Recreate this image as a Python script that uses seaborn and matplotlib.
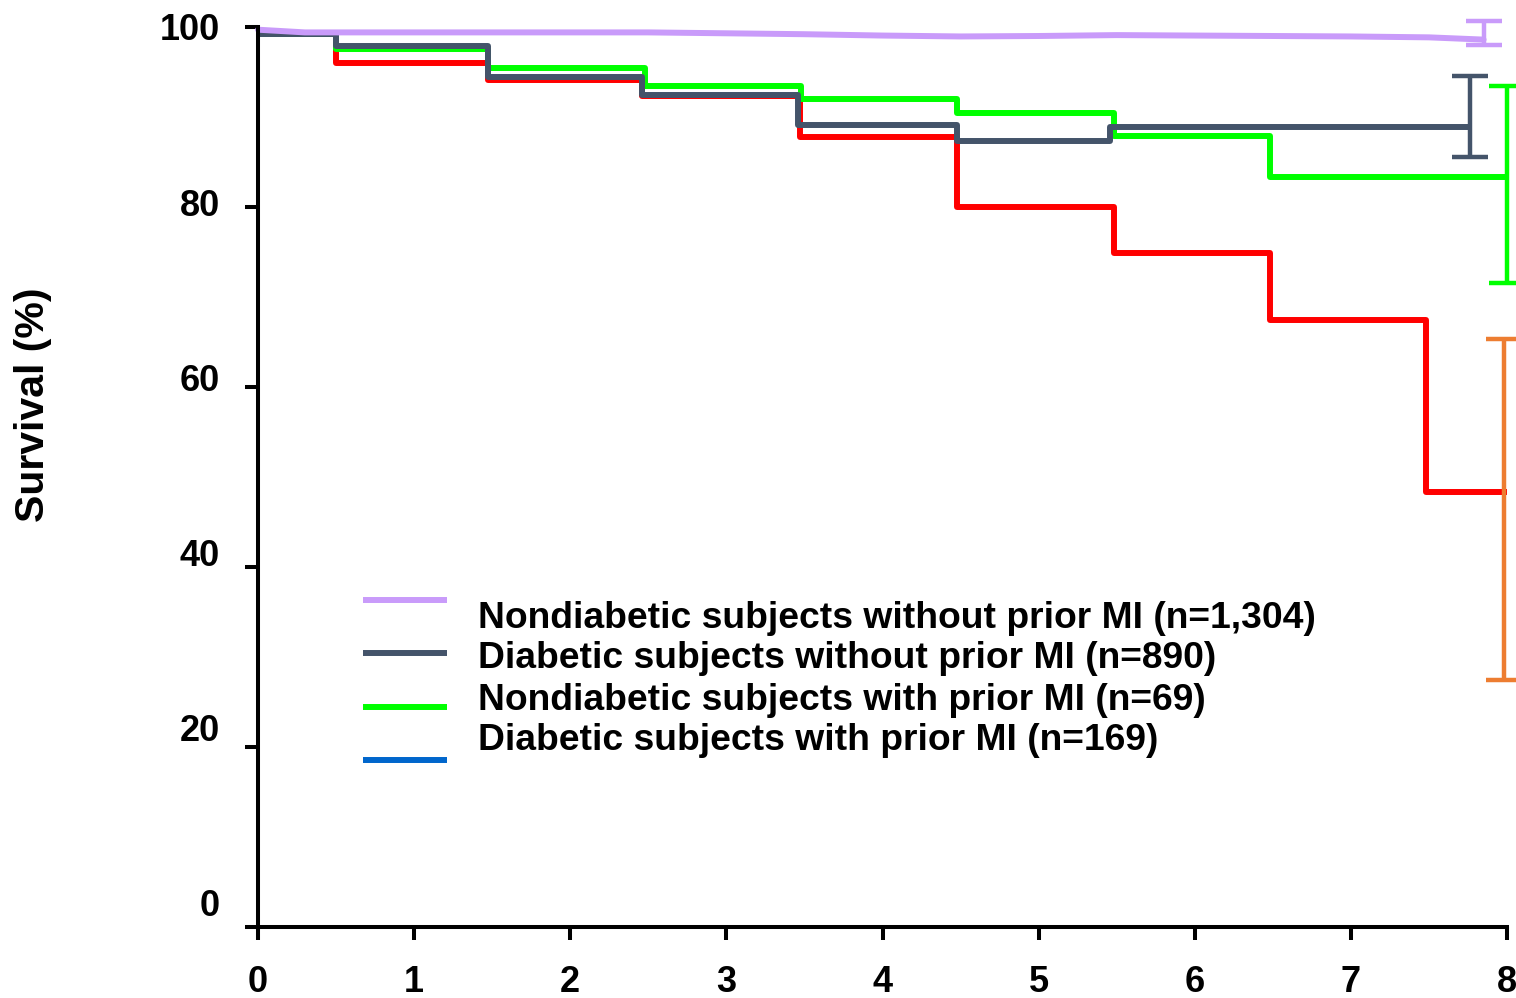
import numpy as np
import pandas as pd
import matplotlib
matplotlib.use("Agg")
import matplotlib.pyplot as plt
from matplotlib.transforms import ScaledTranslation
import seaborn as sns

# Kaplan-Meier style survival estimates (%) by follow-up year
red_t = [0, 0.5, 1.47, 2.46, 3.47, 4.48, 5.48, 6.48, 7.48, 8.0]
red_s = [99.2, 96.0, 94.1, 92.3, 87.8, 80.0, 74.9, 67.4, 48.3, 48.3]

green_t = [0, 0.5, 1.47, 2.48, 3.48, 4.48, 5.48, 6.48, 8.0]
green_s = [99.2, 97.6, 95.4, 93.4, 92.0, 90.5, 87.9, 83.3, 83.3]

gray_t = [0, 0.5, 1.47, 2.46, 3.46, 4.48, 5.46, 7.76]
gray_s = [99.2, 97.9, 94.4, 92.4, 89.1, 87.3, 88.9, 88.9]

purple_t = [0, 0.3, 1, 2, 2.5, 3, 3.5, 4, 4.5, 5, 5.5, 6, 6.5, 7, 7.5, 7.85]
purple_s = [99.7, 99.4, 99.4, 99.4, 99.4, 99.3, 99.2, 99.05, 98.95, 99.0, 99.1,
            99.05, 99.0, 98.95, 98.85, 98.6]

# End-of-follow-up confidence intervals: (time, estimate, lower, upper)
ci_purple = (7.85, 98.6, 98.0, 100.7)
ci_gray = (7.76, 88.9, 85.6, 94.6)
ci_green = (8.0, 83.3, 71.6, 93.4)
ci_red = (7.98, 48.3, 27.4, 65.3)

legend_labels = [
    "Nondiabetic subjects without prior MI (n=1,304)",
    "Diabetic subjects without prior MI (n=890)",
    "Nondiabetic subjects with prior MI (n=69)",
    "Diabetic subjects with prior MI (n=169)",
]

x_ticks = [0, 1, 2, 3, 4, 5, 6, 7, 8]
y_ticks = [0, 20, 40, 60, 80, 100]

C_PURPLE = "#C99BFA"
C_GRAY = "#44546A"
C_GREEN = "#00FF00"
C_RED = "#FF0000"
C_BLUE = "#0066CC"
C_ORANGE = "#ED7D31"

sns.set_theme(style="white")
plt.rcParams["font.family"] = ["Liberation Sans", "DejaVu Sans"]
plt.rcParams["font.weight"] = "bold"

fig = plt.figure(figsize=(15.16, 9.98), dpi=100)
ax = fig.add_axes([258 / 1516, 71 / 998, 1249 / 1516, 900 / 998])

LW = 4.3
step_kw = dict(drawstyle="steps-post", estimator=None, sort=False, ax=ax,
               linewidth=LW, solid_joinstyle="round", solid_capstyle="butt",
               clip_on=False, legend=False)

sns.lineplot(x=red_t, y=red_s, color=C_RED, zorder=3, **step_kw)
sns.lineplot(x=green_t, y=green_s, color=C_GREEN, zorder=4, **step_kw)
sns.lineplot(x=gray_t, y=gray_s, color=C_GRAY, zorder=5, **step_kw)
sns.lineplot(x=purple_t, y=purple_s, color=C_PURPLE, estimator=None, sort=False,
             ax=ax, linewidth=LW, clip_on=False, zorder=6, legend=False)

for (t, est, lo, hi), col in [(ci_purple, C_PURPLE), (ci_gray, C_GRAY),
                              (ci_green, C_GREEN), (ci_red, C_ORANGE)]:
    ax.errorbar([t], [est], yerr=[[est - lo], [hi - est]], fmt="none",
                ecolor=col, elinewidth=3.2, capsize=13, capthick=3.2,
                clip_on=False, zorder=7)

ax.set_xlim(0, 8)
ax.set_ylim(0, 100)
ax.set_xticks(x_ticks)
ax.set_yticks(y_ticks)
ax.set_xticklabels([str(v) for v in x_ticks], fontsize=26, fontweight="bold")
ax.set_yticklabels([str(v) for v in y_ticks], fontsize=26, fontweight="bold")

for s in ["top", "right"]:
    ax.spines[s].set_visible(False)
for s in ["left", "bottom"]:
    ax.spines[s].set_linewidth(2.9)
    ax.spines[s].set_color("black")
    ax.spines[s].set_zorder(8)

ax.tick_params(axis="both", which="major", direction="out", length=9.5,
               width=2.9, color="black", labelcolor="black",
               bottom=True, left=True, top=False, right=False)
ax.tick_params(axis="y", pad=18)
ax.tick_params(axis="x", pad=18)

# y tick labels drift slightly upward toward the bottom of the axis
for lab, v in zip(ax.get_yticklabels(), y_ticks):
    dy = (100 - v) * 0.245 / 100.0
    lab.set_transform(lab.get_transform() + ScaledTranslation(0, dy, fig.dpi_scale_trans))

ax.set_ylabel("Survival (%)", fontsize=29.5, fontweight="bold", color="black")
ax.yaxis.set_label_coords(-0.165, 0.58)
ax.set_xlabel("")

# Legend: line swatches on the left, labels on the right
sw_x0 = (363 - 258) / 1249
sw_x1 = (447 - 258) / 1249
sw_y = [(927 - py) / 900 for py in (600, 653, 707, 760)]
txt_x = (478 - 258) / 1249
txt_y = [(927 - py) / 900 for py in (619, 659, 700, 741)]
for col, yy in zip([C_PURPLE, C_GRAY, C_GREEN, C_BLUE], sw_y):
    ax.plot([sw_x0, sw_x1], [yy, yy], transform=ax.transAxes, color=col,
            linewidth=4.3, solid_capstyle="butt", clip_on=False)
for lab, yy in zip(legend_labels, txt_y):
    ax.text(txt_x, yy, lab, transform=ax.transAxes, fontsize=26.8,
            fontweight="bold", color="black", va="center", ha="left")

fig.savefig("out.png", dpi=100, facecolor="white")
